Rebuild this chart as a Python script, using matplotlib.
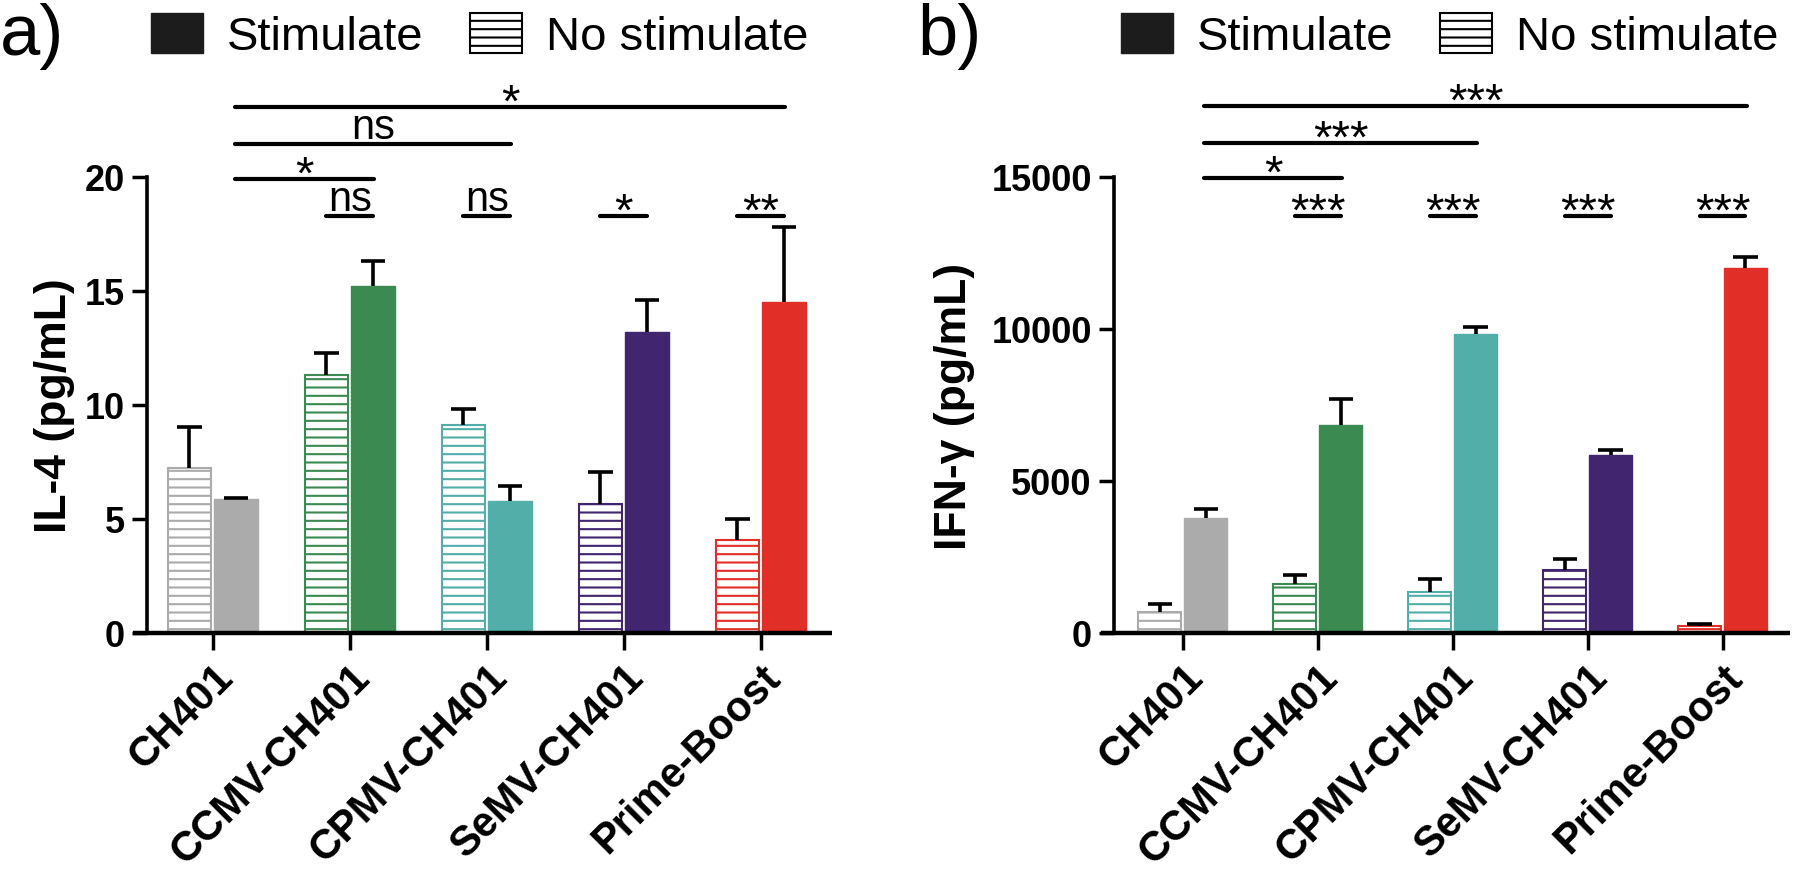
import numpy as np
import matplotlib
matplotlib.use("Agg")
import matplotlib.pyplot as plt
from matplotlib.patches import Patch

plt.rcParams['font.family'] = ['Liberation Sans', 'DejaVu Sans']
plt.rcParams['hatch.linewidth'] = 1.5

# Данные
groups = ["CH401", "CCMV-CH401", "CPMV-CH401", "SeMV-CH401", "Prime-Boost"]
colors = ["#ABABAB", "#3B8A52", "#52AEA9", "#41256F", "#E12F27"]

il4_nostim = [7.22, 11.32, 9.12, 5.64, 4.10]
il4_nostim_err = [1.80, 0.97, 0.70, 1.41, 0.88]
il4_stim = [5.86, 15.20, 5.77, 13.20, 14.50]
il4_stim_err = [0.05, 1.10, 0.66, 1.40, 3.30]

ifn_nostim = [690, 1610, 1350, 2070, 230]
ifn_nostim_err = [260, 290, 430, 360, 70]
ifn_stim = [3780, 6840, 9840, 5850, 12000]
ifn_stim_err = [300, 860, 230, 170, 370]

# значимость: (от группы, до группы, метка, высота)
il4_long = [(0, 1, "*", 19.9), (0, 2, "ns", 21.45), (0, 4, "*", 23.07)]
il4_short = ["", "ns", "ns", "*", "**"]
il4_short_y = 18.29
ifn_long = [(0, 1, "*", 14967), (0, 2, "***", 16118), (0, 4, "***", 17336)]
ifn_short = ["", "***", "***", "***", "***"]
ifn_short_y = 13717

W, H = 1800, 870
fig = plt.figure(figsize=(18, 8.7), dpi=100)
ax_a = fig.add_axes([147 / W, 1 - 634 / H, 685 / W, 456 / H])
ax_b = fig.add_axes([1114 / W, 1 - 634 / H, 676 / W, 456 / H])


def sig_text(ax, x, y, label):
    # звёздочки в шрифте сидят высоко, поэтому сдвигаем их вниз
    if label == "ns":
        ax.annotate(label, (x, y), xytext=(0, 4), textcoords="offset points",
                    ha="center", va="baseline", fontsize=30,
                    annotation_clip=False)
    else:
        ax.annotate(label, (x, y), xytext=(0, -6), textcoords="offset points",
                    ha="center", va="baseline", fontsize=34,
                    annotation_clip=False)


def draw_panel(ax, nostim, nostim_err, stim, stim_err, ymax, yticks, ylabel,
               long_br, short_lab, short_y, xlim, lpad):
    x = np.arange(len(groups))
    w = 0.32
    ax.bar(x - 0.17, nostim, w, facecolor="white", edgecolor=colors,
           hatch="--", linewidth=1.5, zorder=2)
    ax.bar(x + 0.17, stim, w, color=colors, edgecolor=colors,
           linewidth=1.0, zorder=2)

    # планки погрешностей только вверх
    cap = 0.09
    for xs, v, e in [(x - 0.17, nostim, nostim_err), (x + 0.17, stim, stim_err)]:
        v = np.array(v)
        e = np.array(e)
        ax.vlines(xs, v, v + e, color="black", lw=2.6, zorder=3)
        ax.hlines(v + e, xs - cap, xs + cap, color="black", lw=2.6, zorder=3)

    ax.set_xlim(*xlim)
    ax.set_ylim(0, ymax)
    ax.set_yticks(yticks)
    ax.set_xticks(x)
    ax.set_xticklabels(groups, rotation=45, ha="right", rotation_mode="anchor",
                       fontsize=30, fontweight="bold")
    for lab in ax.get_yticklabels():
        lab.set_fontweight("bold")
    ax.tick_params(axis="y", length=11, width=2.5, pad=5, labelsize=26)
    ax.tick_params(axis="x", length=12, width=2.5, pad=5)
    for s in ["top", "right", "bottom"]:
        ax.spines[s].set_visible(False)
    ax.spines["left"].set_linewidth(2.6)
    ax.plot([xlim[0] - 0.1, xlim[1]], [0, 0], color="black", lw=3.2,
            clip_on=False, zorder=4, solid_capstyle="butt")
    ax.set_ylabel(ylabel, fontsize=32, fontweight="bold", labelpad=lpad)

    # линии значимости
    for i0, i1, lab, yy in long_br:
        ax.plot([i0 + 0.16, i1 + 0.18], [yy, yy], color="black", lw=3,
                clip_on=False, solid_capstyle="round")
        sig_text(ax, (i0 + 0.16 + i1 + 0.18) / 2, yy, lab)
    for i, lab in enumerate(short_lab):
        if not lab:
            continue
        ax.plot([i - 0.17, i + 0.17], [short_y, short_y], color="black", lw=3,
                clip_on=False, solid_capstyle="round")
        sig_text(ax, i, short_y, lab)


draw_panel(ax_a, il4_nostim, il4_nostim_err, il4_stim, il4_stim_err,
           20, [0, 5, 10, 15, 20], "IL-4 (pg/mL)", il4_long, il4_short,
           il4_short_y, (-0.48, 4.52), 7)
draw_panel(ax_b, ifn_nostim, ifn_nostim_err, ifn_stim, ifn_stim_err,
           15000, [0, 5000, 10000, 15000], "IFN-\u03b3 (pg/mL)", ifn_long,
           ifn_short, ifn_short_y, (-0.51, 4.5), 12)

# легенды и буквы панелей
handles = [Patch(facecolor="#1c1c1c", edgecolor="#1c1c1c"),
           Patch(facecolor="white", edgecolor="black", hatch="--", linewidth=1.5)]
labels = ["Stimulate", "No stimulate"]
for ax, lx, px, letter in [(ax_a, 151, 0, "a)"), (ax_b, 1121, 917, "b)")]:
    ax.legend(handles, labels, loc="center left",
              bbox_to_anchor=(lx / W, 1 - 37 / H), bbox_transform=fig.transFigure,
              ncol=2, frameon=False, fontsize=34, handlelength=1.1,
              handleheight=0.95, handletextpad=0.5, columnspacing=1.0,
              borderpad=0, borderaxespad=0)
    fig.text(px / W, 1 - 3 / H, letter, fontsize=52, ha="left", va="top")

fig.savefig("out.png", dpi=100)
